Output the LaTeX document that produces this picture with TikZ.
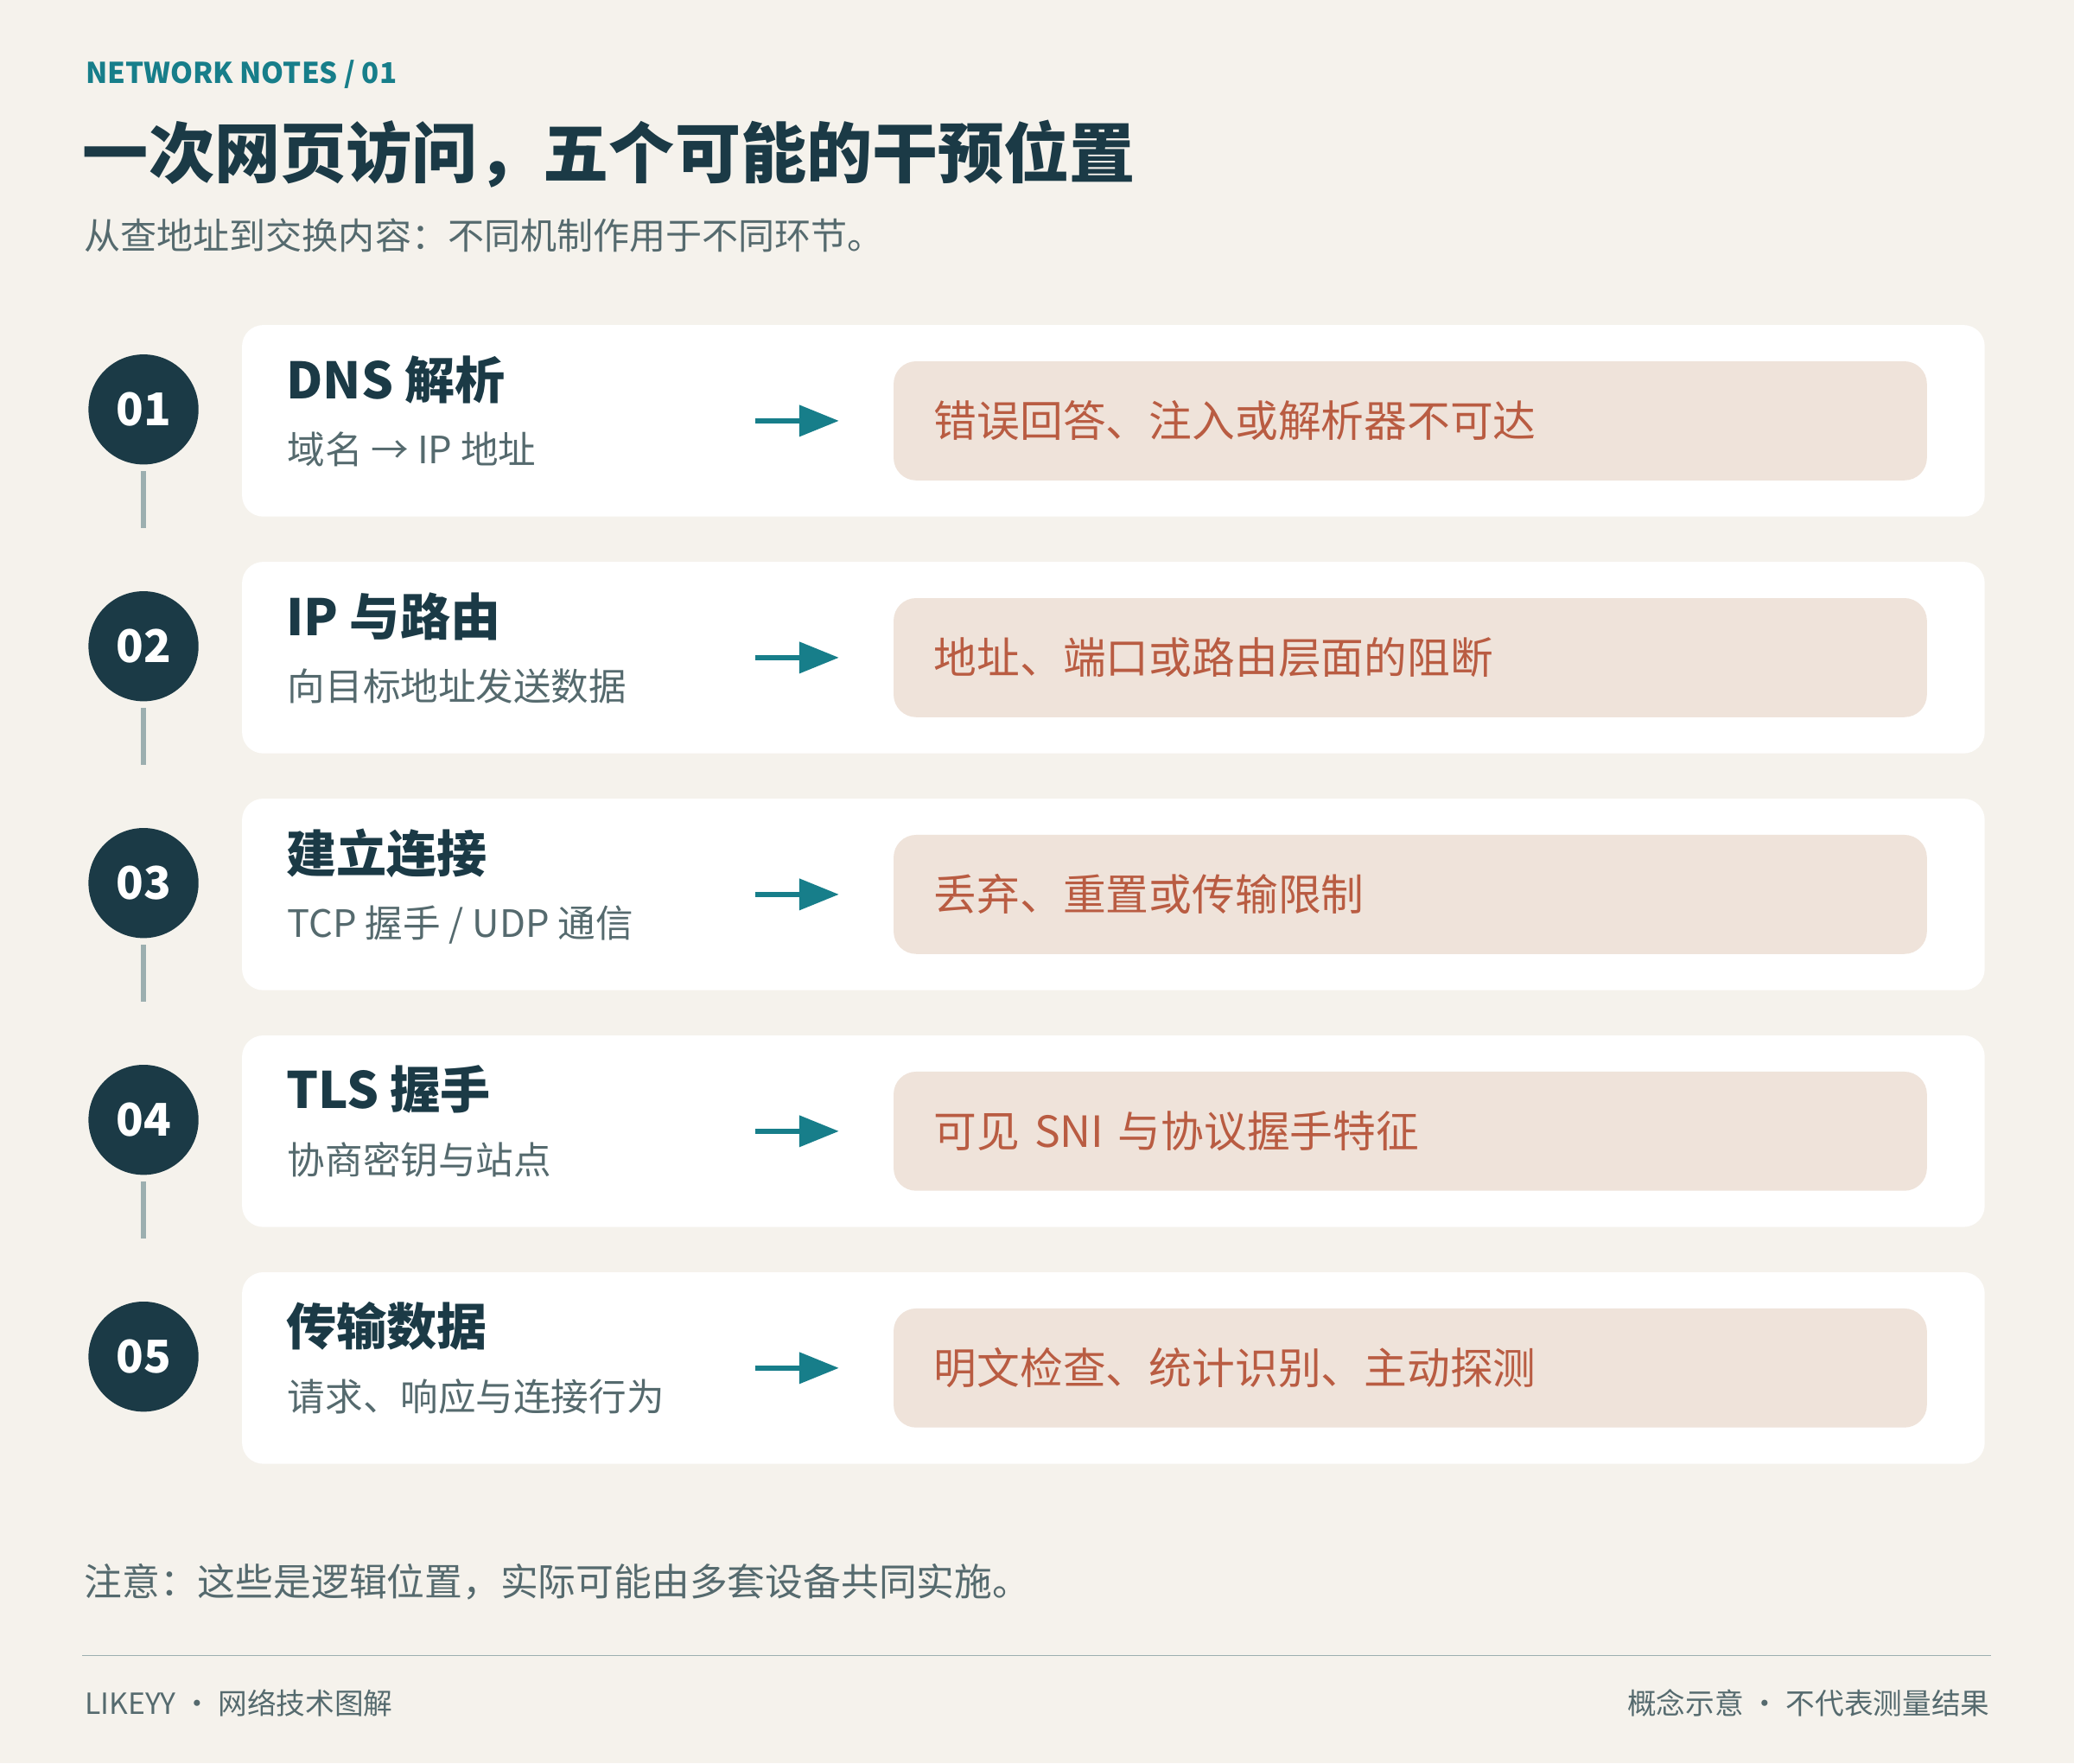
\documentclass[tikz,border=0pt]{standalone}
\usepackage{fontspec}
\setmainfont{Noto Sans CJK SC}
\usepackage{tikz}
\usetikzlibrary{calc, arrows.meta}
\tikzset{>={Triangle[length=3mm, width=2.3mm]}}

\definecolor{paper}{HTML}{F5F2EC}
\definecolor{ink}{HTML}{1B3A46}
\definecolor{sea}{HTML}{177E8A}
\definecolor{slate}{HTML}{556A6E}
\definecolor{stemcol}{HTML}{9CAFB0}
\definecolor{sand}{HTML}{EFE3DA}
\definecolor{rust}{HTML}{B95C42}

\tikzset{
  card/.style = {fill=white, rounded corners=1.6mm, minimum width=131.75mm, minimum height=14.48mm, inner sep=0},
  numdot/.style = {circle, fill=ink, text=white, minimum size=8.32mm, inner sep=0, font=\bfseries\fontsize{9.7pt}{11pt}\selectfont},
  stemline/.style = {stemcol, line width=0.39mm},
  stagehead/.style = {anchor=base west, inner sep=0, text=ink, font=\bfseries\fontsize{10.8pt}{12pt}\selectfont},
  stagesub/.style = {anchor=base west, inner sep=0, text=slate, font=\fontsize{8.1pt}{10pt}\selectfont},
  flow/.style = {->, sea, line width=0.41mm},
  effectbox/.style = {fill=sand, rounded corners=1.7mm, minimum height=9mm, text width=72mm, inner xsep=3.06mm, inner ysep=0, align=left, text=rust, font=\fontsize{9.25pt}{11pt}\selectfont},
  plain/.style = {inner sep=0, text=slate}
}

\begin{document}
\begin{tikzpicture}[x=0.1mm, y=-0.1mm]
\fill[paper] (0,0) rectangle (1568,1332.8);
\useasboundingbox (0,0) rectangle (1568,1332.8);

% header
\node[anchor=base west, inner sep=0, text=sea, font=\bfseries\fontsize{6.15pt}{7pt}\selectfont] (tag) at (64,63.2) {NETWORK NOTES / 01};
\node[anchor=base west, inner sep=0, text=ink, font=\bfseries\fontsize{14.15pt}{16pt}\selectfont] (title) at (62,134) {一次网页访问，五个可能的干预位置};
\node[plain, anchor=base west, font=\fontsize{7.82pt}{9pt}\selectfont] (lead) at (63,188.6) {从查地址到交换内容：不同机制作用于不同环节。};

% 01
\node[card] (card1) at (841.75,318.1) {};
\node[numdot] (n1) at (108.5,309.5) {01};
\draw[stemline] ($(n1.south)+(0,4.3)$) -- ++(0,43.2);
\node[stagehead] (t1) at ($(card1.west)+(33.5,-16.9)$) {DNS 解析};
\node[stagesub] (s1) at ($(card1.west)+(34.5,32.2)$) {域名 → IP 地址};
\node[effectbox] (box1) at (1066.2,318.1) {错误回答、注入或解析器不可达};
\draw[flow] ([xshift=-10.42mm]box1.west) -- ([xshift=-4.06mm]box1.west);

% 02
\node[card] (card2) at (841.75,497.1) {};
\node[numdot] (n2) at (108.5,488.5) {02};
\draw[stemline] ($(n2.south)+(0,4.3)$) -- ++(0,43.2);
\node[stagehead] (t2) at ($(card2.west)+(33.5,-16.9)$) {IP 与路由};
\node[stagesub] (s2) at ($(card2.west)+(34.5,32.2)$) {向目标地址发送数据};
\node[effectbox] (box2) at (1066.2,497.1) {地址、端口或路由层面的阻断};
\draw[flow] ([xshift=-10.42mm]box2.west) -- ([xshift=-4.06mm]box2.west);

% 03
\node[card] (card3) at (841.75,676.1) {};
\node[numdot] (n3) at (108.5,667.5) {03};
\draw[stemline] ($(n3.south)+(0,4.3)$) -- ++(0,43.2);
\node[stagehead] (t3) at ($(card3.west)+(33.5,-16.9)$) {建立连接};
\node[stagesub] (s3) at ($(card3.west)+(34.5,32.2)$) {TCP 握手 / UDP 通信};
\node[effectbox] (box3) at (1066.2,676.1) {丢弃、重置或传输限制};
\draw[flow] ([xshift=-10.42mm]box3.west) -- ([xshift=-4.06mm]box3.west);

% 04
\node[card] (card4) at (841.75,855.1) {};
\node[numdot] (n4) at (108.5,846.5) {04};
\draw[stemline] ($(n4.south)+(0,4.3)$) -- ++(0,43.2);
\node[stagehead] (t4) at ($(card4.west)+(33.5,-16.9)$) {TLS 握手};
\node[stagesub] (s4) at ($(card4.west)+(34.5,32.2)$) {协商密钥与站点};
\node[effectbox] (box4) at (1066.2,855.1) {可见 SNI 与协议握手特征};
\draw[flow] ([xshift=-10.42mm]box4.west) -- ([xshift=-4.06mm]box4.west);

% 05
\node[card] (card5) at (841.75,1034.1) {};
\node[numdot] (n5) at (108.5,1025.5) {05};
\node[stagehead] (t5) at ($(card5.west)+(33.5,-16.9)$) {传输数据};
\node[stagesub] (s5) at ($(card5.west)+(34.5,32.2)$) {请求、响应与连接行为};
\node[effectbox] (box5) at (1066.2,1034.1) {明文检查、统计识别、主动探测};
\draw[flow] ([xshift=-10.42mm]box5.west) -- ([xshift=-4.06mm]box5.west);

% footer
\node[plain, anchor=base west, font=\fontsize{8.14pt}{9pt}\selectfont] (note) at (63,1206.5) {注意：这些是逻辑位置，实际可能由多套设备共同实施。};
\draw[stemcol, line width=0.09mm] (62.3,1251.6) -- (1505,1251.6);
\node[plain, anchor=base west, font=\fontsize{6.26pt}{7pt}\selectfont] (brand) at (63.5,1296) {LIKEYY · 网络技术图解};
\node[plain, anchor=base east, font=\fontsize{6.26pt}{7pt}\selectfont] (disclaim) at (1505,1296) {概念示意 · 不代表测量结果};
\end{tikzpicture}
\end{document}
